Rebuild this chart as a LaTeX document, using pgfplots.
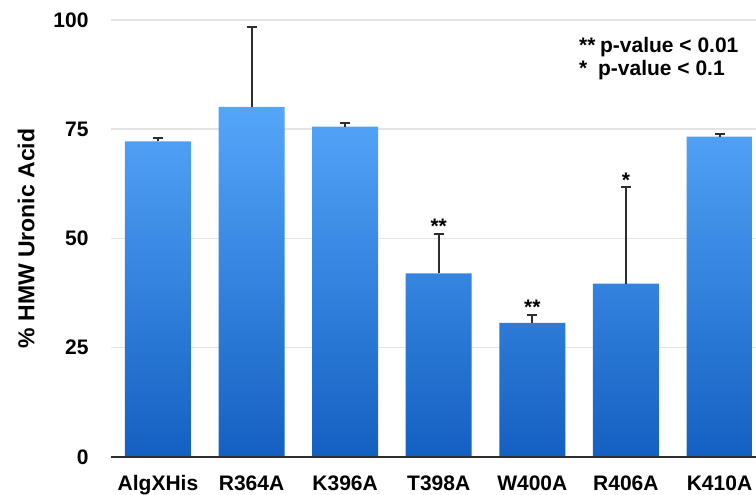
\documentclass[border=0pt]{standalone}
\usepackage{pgfplots}
\pgfplotsset{compat=1.18}
\usepackage{fontspec}
\setmainfont{Liberation Sans}
\definecolor{bartop}{RGB}{84,166,250}
\definecolor{barbot}{RGB}{20,96,194}
\definecolor{gridc}{RGB}{228,228,228}
\definecolor{axc}{RGB}{45,45,45}
\begin{document}
\begin{tikzpicture}
\begin{axis}[
  at={(0,0)}, anchor=south west,
  scale only axis, width=645.3pt, height=437pt,
  xmin=-0.505, xmax=6.39, ymin=0, ymax=100,
  ybar, bar width=66pt, bar shift=0pt,
  xtick={0,...,6}, xticklabels={AlgXHis,R364A,K396A,T398A,W400A,R406A,K410A},
  ytick={0,25,50,75,100},
  major tick length=0pt,
  axis line style={draw=none},
  ymajorgrids, grid style={draw=gridc, line width=1.5pt},
  /pgf/number format/assume math mode=true,
  tick label style={font=\fontsize{21}{24}\selectfont\bfseries},
  yticklabel style={anchor=east, inner sep=0pt, xshift=-22pt},
  xticklabel style={anchor=base, inner sep=0pt, yshift=-33.7pt},
  ylabel={\% HMW Uronic Acid},
  ylabel style={font=\fontsize{23}{26}\selectfont\bfseries, at={(axis description cs:-0.131,0.5)}, anchor=center},
  clip=false,
]
\addplot[draw=none, top color=bartop, bottom color=barbot] coordinates {
  (0,72.2) (1,80.1) (2,75.6) (3,42.0) (4,30.7) (5,39.7) (6,73.3)};
\addplot[draw=none, fill=none, forget plot,
  error bars/.cd, y dir=plus, y explicit,
  error bar style={draw=axc, line width=2pt},
  error mark options={rotate=90, draw=axc, line width=2pt, mark size=5pt}]
  coordinates {
  (0,72.2) +- (0,0.7)
  (1,80.1) +- (0,18.4)
  (2,75.6) +- (0,0.8)
  (3,42.0) +- (0,9.1)
  (4,30.7) +- (0,1.8)
  (5,39.7) +- (0,22.0)
  (6,73.3) +- (0,0.5)};
\draw[axc, line width=2pt] (rel axis cs:0,0) -- (rel axis cs:1,0);
\begin{scope}[every node/.style={font=\fontsize{21}{24}\selectfont\bfseries, inner sep=0pt}]
\node[anchor=base] at (axis cs:3,51.1) {**};
\node[anchor=base] at (axis cs:4,32.5) {**};
\node[anchor=base] at (axis cs:5,61.7) {*};
\node[anchor=base west] at (axis cs:4.498,92.6) {**};
\node[anchor=base west] at (axis cs:4.722,92.6) {p-value < 0.01};
\node[anchor=base west] at (axis cs:4.498,87.2) {*};
\node[anchor=base west] at (axis cs:4.701,87.2) {p-value < 0.1};
\end{scope}
\end{axis}
\pgfresetboundingbox
\path (-110.7pt,-38pt) rectangle (645.3pt,457pt);
\end{tikzpicture}
\end{document}
